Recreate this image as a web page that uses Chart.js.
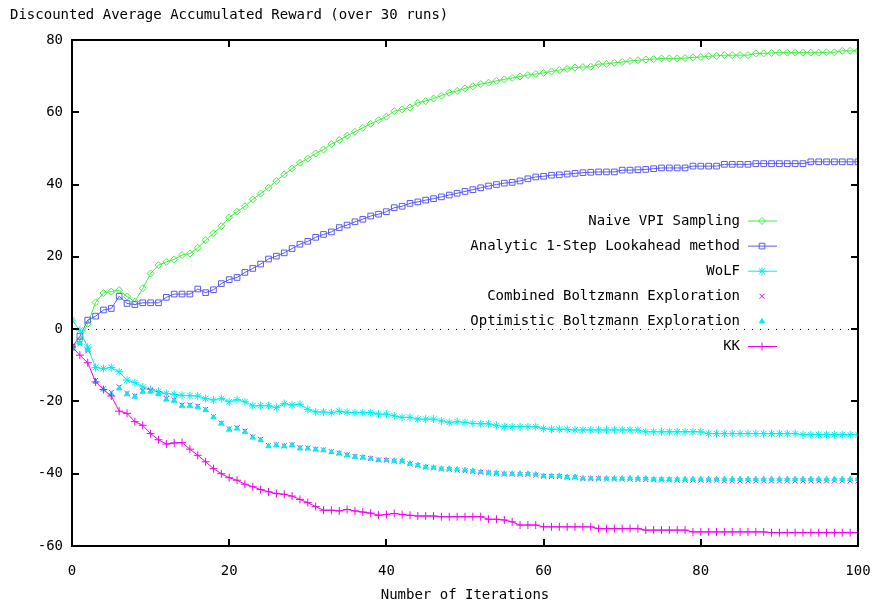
<!DOCTYPE html>
<html>
<head>
<meta charset="utf-8">
<script src="https://cdn.jsdelivr.net/npm/chart.js@4.4.1/dist/chart.umd.min.js"></script>
<style>
  html, body { margin: 0; padding: 0; background: #fff; }
  #wrap { width: 873px; height: 607px; }
</style>
</head>
<body>
<div id="wrap"><canvas id="chart" width="873" height="607"></canvas></div>
<script>
// values, one per iteration 0..100
const naiveVPI = [
  -5, -3, 1.5, 7.4, 10, 10.4, 10.8, 9, 7.6, 11.3,
  15.4, 17.7, 18.6, 19.3, 20.5, 20.9, 22.5, 24.6, 26.5, 28.5,
  30.9, 32.5, 34, 35.9, 37.5, 39.1, 41, 42.8, 44.4, 46,
  47.2, 48.6, 49.7, 51.2, 52.3, 53.5, 54.6, 55.7, 56.8, 57.8,
  58.8, 60.3, 60.8, 61.3, 62.6, 63.1, 63.8, 64.6, 65.4, 65.9,
  66.6, 67.2, 67.8, 68.2, 68.7, 69.1, 69.5, 69.9, 70.3, 70.6,
  70.9, 71.3, 71.7, 72.0, 72.4, 72.5, 72.6, 73.3, 73.4, 73.7,
  73.9, 74.2, 74.4, 74.6, 74.7, 74.9, 74.9, 74.9, 75.0, 75.2,
  75.3, 75.5, 75.6, 75.8, 75.8, 75.8, 75.8, 76.3, 76.3, 76.4,
  76.5, 76.5, 76.5, 76.5, 76.5, 76.5, 76.6, 76.6, 77, 77, 77
]
const analytic = [
  -5, -2, 2.5, 3.6, 5.3, 5.7, 9.1, 7.1, 6.8, 7.3,
  7.3, 7.3, 8.8, 9.7, 9.7, 9.7, 11.1, 10.1, 10.9, 12.6,
  13.7, 14.3, 15.7, 16.8, 18, 19.4, 20.2, 21.1, 22.3, 23.5,
  24.3, 25.4, 26.2, 26.9, 28.1, 28.8, 29.7, 30.4, 31.3, 31.8,
  32.5, 33.6, 34, 34.8, 35.2, 35.7, 36.1, 36.6, 37.1, 37.6,
  38.1, 38.6, 39.1, 39.6, 40, 40.4, 40.6, 41, 41.6, 42.1,
  42.3, 42.6, 42.7, 42.9, 43.1, 43.3, 43.4, 43.5, 43.5, 43.5,
  44, 44, 44.1, 44.2, 44.4, 44.6, 44.6, 44.6, 44.6, 45.1,
  45.1, 45.1, 45.1, 45.6, 45.6, 45.6, 45.6, 45.8, 45.8, 45.8,
  45.8, 45.8, 45.8, 45.8, 46.3, 46.3, 46.3, 46.3, 46.3, 46.3, 46.3
]
const wolf = [
  2.5, -0.3, -5, -10.6, -10.9, -10.6, -11.8, -14.1, -14.8, -16,
  -16.7, -17.3, -17.8, -18, -18.3, -18.4, -18.5, -19.2, -19.6, -19.2,
  -20.1, -19.5, -20.1, -21.2, -21.2, -21.2, -21.7, -20.6, -21, -20.8,
  -22.2, -22.9, -22.9, -23.1, -22.7, -23, -23.1, -23.1, -23.1, -23.5,
  -23.5, -24, -24.4, -24.4, -24.9, -24.9, -24.9, -25.4, -25.8, -25.6,
  -25.8, -26.1, -26.2, -26.2, -26.6, -27, -27, -27, -27, -27,
  -27.5, -27.7, -27.7, -27.7, -27.9, -27.9, -27.9, -27.9, -27.9, -27.9,
  -27.9, -27.9, -27.9, -28.4, -28.4, -28.4, -28.4, -28.4, -28.4, -28.4,
  -28.4, -28.9, -28.9, -28.9, -28.9, -28.9, -28.9, -28.9, -28.9, -28.9,
  -28.9, -28.9, -28.9, -29.2, -29.2, -29.2, -29.2, -29.2, -29.2, -29.2, -29.2
]
const combinedBoltzmann = [
  -4.7, -4, -6, -14.2, -16.5, -17.5, -16, -17.8, -18.5, -17,
  -17, -17.8, -19.2, -19.6, -21, -21, -21.3, -22.2, -24.2, -26,
  -27.6, -27.3, -28.2, -29.8, -30.5, -32.2, -32, -32.3, -32, -32.8,
  -32.9, -33.2, -33.4, -33.9, -34.3, -34.8, -35.2, -35.5, -35.8, -36.2,
  -36.3, -36.5, -36.6, -37.3, -37.7, -38.2, -38.4, -38.7, -38.8, -39,
  -39.2, -39.4, -39.6, -39.8, -40, -40.1, -40.1, -40.2, -40.2, -40.4,
  -40.7, -40.8, -40.8, -41, -41, -41.4, -41.4, -41.4, -41.5, -41.5,
  -41.5, -41.5, -41.6, -41.6, -41.7, -41.7, -41.7, -41.8, -41.8, -41.8,
  -41.8, -41.8, -41.8, -42, -42, -42, -42, -42, -42, -42,
  -42, -42, -42, -42, -42, -42, -42, -42, -42, -42, -42
]
const optimisticBoltzmann = [
  -5, -3.8, -5.8, -14.6, -16.7, -18, -16.4, -18, -18.7, -17.3,
  -17.3, -18, -19.5, -19.8, -21.2, -21.2, -21.5, -22.4, -24.4, -26.1,
  -27.8, -27.5, -28.4, -30, -30.7, -32.4, -32.1, -32.4, -32.1, -33,
  -33, -33.3, -33.5, -34, -34.4, -34.9, -35.3, -35.5, -35.8, -36.2,
  -36.2, -36.4, -36.4, -37.2, -37.6, -38.1, -38.3, -38.6, -38.6, -38.8,
  -39, -39.2, -39.5, -39.7, -39.8, -40, -40, -40, -40, -40.2,
  -40.6, -40.6, -40.6, -40.9, -40.9, -41.3, -41.3, -41.3, -41.3, -41.3,
  -41.3, -41.3, -41.3, -41.3, -41.5, -41.5, -41.5, -41.5, -41.5, -41.5,
  -41.5, -41.5, -41.5, -41.5, -41.5, -41.5, -41.5, -41.5, -41.5, -41.5,
  -41.5, -41.5, -41.5, -41.5, -41.5, -41.5, -41.5, -41.5, -41.5, -41.5, -41.5
]
const kk = [
  -4.9, -7.2, -9.3, -14.6, -16.7, -18.5, -22.7, -23.3, -25.6, -26.6,
  -28.9, -30.6, -31.8, -31.5, -31.4, -33.2, -34.9, -36.7, -38.6, -40,
  -41.1, -41.8, -42.9, -43.6, -44.4, -45, -45.5, -45.7, -46.2, -47.1,
  -48, -49.1, -50.1, -50.1, -50.3, -49.9, -50.3, -50.6, -50.9, -51.5,
  -51.3, -51, -51.3, -51.5, -51.7, -51.7, -51.7, -51.9, -51.9, -51.9,
  -51.9, -51.9, -51.9, -52.6, -52.6, -52.8, -53.3, -54.2, -54.2, -54.2,
  -54.7, -54.7, -54.7, -54.7, -54.7, -54.7, -54.7, -55.2, -55.2, -55.2,
  -55.2, -55.2, -55.2, -55.6, -55.6, -55.6, -55.6, -55.6, -55.6, -56.1,
  -56.1, -56.1, -56.1, -56.1, -56.1, -56.1, -56.1, -56.1, -56.1, -56.3,
  -56.3, -56.3, -56.3, -56.3, -56.3, -56.3, -56.3, -56.3, -56.3, -56.3, -56.3
]

const xTicks = [0, 20, 40, 60, 80, 100]
const yTicks = [-60, -40, -20, 0, 20, 40, 60, 80]

const FONT = "14px 'DejaVu Sans Mono', monospace"

const toXY = arr => arr.map((v, i) => ({ x: i, y: v }))

const series = [
  { label: "Naive VPI Sampling", data: naiveVPI, color: "#3fee3f", style: "rectRot", r: 3.5, line: true, fill: false },
  { label: "Analytic 1-Step Lookahead method", data: analytic, color: "#5a5af2", style: "rect", r: 4, line: true, fill: false },
  { label: "WoLF", data: wolf, color: "#00eeee", style: "star", r: 4, line: true, fill: false },
  { label: "Combined Boltzmann Exploration", data: combinedBoltzmann, color: "#f000f0", style: "crossRot", r: 3.5, line: false, fill: false },
  { label: "Optimistic Boltzmann Exploration", data: optimisticBoltzmann, color: "#00eeee", style: "triangle", r: 3, line: false, fill: true },
  { label: "KK", data: kk, color: "#f000f0", style: "cross", r: 4, line: true, fill: false }
]

// box, inward ticks, dotted zero line, title and gnuplot-like key
const frame = {
  id: "frame",
  beforeDatasetsDraw(chart) {
    const { ctx, chartArea: a, scales } = chart
    const y0 = scales.y.getPixelForValue(0)
    ctx.save()
    ctx.fillStyle = "#000"
    for (let x = a.left + 8; x < a.right - 2; x += 8) {
      ctx.fillRect(Math.round(x), Math.round(y0), 1, 1)
    }
    ctx.restore()
  },
  afterDatasetsDraw(chart) {
    const { ctx, chartArea: a, scales } = chart
    ctx.save()
    ctx.strokeStyle = "#000"
    ctx.lineWidth = 2
    ctx.beginPath()
    xTicks.forEach(t => {
      const px = Math.round(scales.x.getPixelForValue(t))
      ctx.moveTo(px, a.bottom); ctx.lineTo(px, a.bottom - 7)
      ctx.moveTo(px, a.top); ctx.lineTo(px, a.top + 7)
    })
    yTicks.forEach(t => {
      const py = Math.round(scales.y.getPixelForValue(t))
      ctx.moveTo(a.left, py); ctx.lineTo(a.left + 7, py)
      ctx.moveTo(a.right, py); ctx.lineTo(a.right - 7, py)
    })
    ctx.stroke()
    ctx.strokeRect(a.left, a.top, a.right - a.left, a.bottom - a.top)

    // key
    ctx.font = FONT
    ctx.textAlign = "right"
    ctx.textBaseline = "middle"
    series.forEach((s, i) => {
      const y = 221 + i * 25.1
      ctx.fillStyle = "#000"
      ctx.fillText(s.label, 740, y)
      ctx.strokeStyle = s.color
      ctx.lineWidth = 1
      if (s.line) {
        ctx.beginPath()
        ctx.moveTo(748, y); ctx.lineTo(777, y)
        ctx.stroke()
      }
      ctx.fillStyle = s.fill ? s.color : "rgba(0,0,0,0)"
      Chart.helpers.drawPoint(ctx, { pointStyle: s.style, radius: s.r, rotation: 0, borderWidth: 1 }, 762, y)
    })

    // title
    ctx.fillStyle = "#000"
    ctx.textAlign = "left"
    ctx.fillText("Discounted Average Accumulated Reward (over 30 runs)", 10, 15)
    ctx.restore()
  }
}

new Chart(document.getElementById("chart"), {
  type: "line",
  data: {
    datasets: series.map((s, i) => ({
      label: s.label,
      data: toXY(s.data),
      borderColor: s.color,
      backgroundColor: s.fill ? s.color : "rgba(0,0,0,0)",
      borderWidth: 1,
      showLine: s.line,
      pointStyle: s.style,
      pointRadius: s.r,
      pointBorderWidth: 1,
      pointBorderColor: s.color,
      pointBackgroundColor: s.fill ? s.color : "rgba(0,0,0,0)",
      tension: 0,
      order: series.length - i
    }))
  },
  options: {
    responsive: false,
    animation: false,
    events: [],
    layout: { autoPadding: false, padding: { top: 40, right: 15, left: 0, bottom: 0 } },
    plugins: { legend: { display: false }, title: { display: false }, tooltip: { enabled: false } },
    scales: {
      x: {
        type: "linear",
        min: 0, max: 100,
        afterBuildTicks: s => { s.ticks = xTicks.map(v => ({ value: v })) },
        afterFit: s => { s.height = 61; s.paddingLeft = 0; s.paddingRight = 0 },
        grid: { display: false, drawTicks: false },
        border: { display: false },
        ticks: { color: "#000", font: { family: "'DejaVu Sans Mono', monospace", size: 14 }, padding: 17, maxRotation: 0 },
        title: { display: true, text: "Number of Iterations", color: "#000", font: { family: "'DejaVu Sans Mono', monospace", size: 14 }, padding: { top: 0, bottom: 3 } }
      },
      y: {
        min: -60, max: 80,
        afterBuildTicks: s => { s.ticks = yTicks.map(v => ({ value: v })) },
        afterFit: s => { s.width = 72; s.paddingTop = 0; s.paddingBottom = 0 },
        grid: { display: false, drawTicks: false },
        border: { display: false },
        ticks: { color: "#000", font: { family: "'DejaVu Sans Mono', monospace", size: 14 }, padding: 9 }
      }
    }
  },
  plugins: [frame]
})
</script>
</body>
</html>
